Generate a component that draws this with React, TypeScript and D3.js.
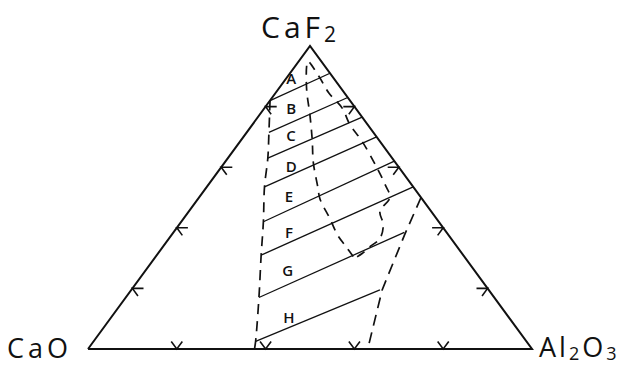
import { useEffect } from 'react'
import * as d3 from 'd3'

// compositions in % : [Al2O3, CaF2]  (CaO = 100 - both)
const TIE_LINES = [
  [[0, 82], [9, 91]],
  [[5, 71.5], [17, 83]],
  [[9, 63], [23.5, 76.5]],
  [[13, 53.5], [30, 70]],
  [[18.5, 42], [38, 62]],
  [[23.5, 31], [46.5, 53.5]],
  [[30, 17], [52, 38.5]],
  [[36.5, 2.5], [56, 19.5]],
]

const LEFT_BOUNDARY = [
  [0, 82], [5, 71.5], [9, 63], [13, 53.5], [18.5, 42], [23.5, 31], [30, 17], [36.5, 2.5], [37.5, 0],
]

const RIGHT_BOUNDARY = [[50, 50], [52.5, 37.5], [56.5, 19.5], [63, 0]]

const GAP_LEFT = [
  [44.5, 30.5], [41, 34], [37.5, 37.5], [33, 43], [27.5, 49.5], [25, 53.5], [20, 61.5],
  [16, 69], [11.5, 77], [6.5, 85.5], [2.5, 93.5], [2, 95],
]
const GAP_RIGHT = [
  [7, 90], [12, 84.5], [17.5, 79.5], [22, 74], [27.5, 68.5], [35, 60], [40, 54], [43, 50],
  [43, 45.5], [46, 41], [47.5, 36.5], [46.5, 33.5], [46, 31.5], [45, 30],
]

const REGION_LABELS = ['A', 'B', 'C', 'D', 'E', 'F', 'G', 'H']
const REGION_POS = [
  [1, 89.5], [6, 79.5], [10.5, 70.5], [15.5, 60.5], [20, 50.5], [26, 38.5], [32, 26], [40, 10.5],
]

const TICKS = [20, 40, 60, 80]

const x = d3.scaleLinear().domain([0, 1]).range([88, 532])
const y = d3.scaleLinear().domain([0, 1]).range([349, 46])

const px = (al: number, f: number) => x(al / 100 + f / 200)
const py = (f: number) => y(f / 100)
const pt = (p: number[]): [number, number] => [px(p[0], p[1]), py(p[1])]

const FONT = "'Open Sans', 'DejaVu Sans', sans-serif"

export default function App() {
  useEffect(() => {
    document.body.style.margin = '0'
  }, [])

  const line = d3.line<number[]>().x(d => pt(d)[0]).y(d => pt(d)[1])
  const smooth = d3.line<number[]>().x(d => pt(d)[0]).y(d => pt(d)[1]).curve(d3.curveCatmullRom)

  const tri = [[0, 0], [100, 0], [0, 100], [0, 0]]
  const d = 2.5
  // tick arms: [point, arm1, arm2] for each side
  const ticks: number[][][] = []
  TICKS.forEach(t => {
    ticks.push([[t, 0], [t, d], [t - d, d]])                  // base
    ticks.push([[0, t], [d, t], [d, t - d]])                  // CaO-CaF2 side
    ticks.push([[100 - t, t], [100 - t - d, t], [100 - t, t - d]]) // Al2O3-CaF2 side
  })

  return (
    <svg width={625} height={367} style={{ display: 'block', background: '#fff' }}>
      <path d={line(tri) ?? ''} fill="none" stroke="#111" strokeWidth={2} strokeLinejoin="miter" />

      {ticks.map((tk, i) => (
        <path key={i}
          d={`M${pt(tk[1])}L${pt(tk[0])}L${pt(tk[2])}`}
          fill="none" stroke="#111" strokeWidth={1.6} />
      ))}

      {TIE_LINES.map((l, i) => (
        <path key={i} d={line(l) ?? ''} stroke="#111" strokeWidth={1.3} fill="none" />
      ))}

      <path d={smooth(LEFT_BOUNDARY) ?? ''} fill="none" stroke="#111" strokeWidth={1.7} strokeDasharray="10,7" />
      <path d={line(RIGHT_BOUNDARY) ?? ''} fill="none" stroke="#111" strokeWidth={1.7} strokeDasharray="11,7" />
      <path d={smooth([...GAP_LEFT, ...GAP_RIGHT]) ?? ''} fill="none" stroke="#111" strokeWidth={1.7} strokeDasharray="9,7" />

      {REGION_LABELS.map((lab, i) => (
        <text key={lab} x={pt(REGION_POS[i])[0]} y={pt(REGION_POS[i])[1]}
          textAnchor="middle" dominantBaseline="central"
          fontFamily={FONT} fontSize={15} fontWeight={600} fill="#111">{lab}</text>
      ))}

      <text x={261} y={38} fontFamily={FONT} fontSize={30} fill="#111" letterSpacing={4}>
        CaF<tspan fontSize={21} dy={4}>2</tspan>
      </text>
      <text x={7} y={358} fontFamily={FONT} fontSize={27} fill="#111" letterSpacing={4}>CaO</text>
      <text x={539} y={357} fontFamily={FONT} fontSize={27} fill="#111" letterSpacing={3}>
        Al<tspan fontSize={18} dy={3}>2</tspan><tspan dy={-3}>O</tspan><tspan fontSize={18} dy={3}>3</tspan>
      </text>
    </svg>
  )
}
